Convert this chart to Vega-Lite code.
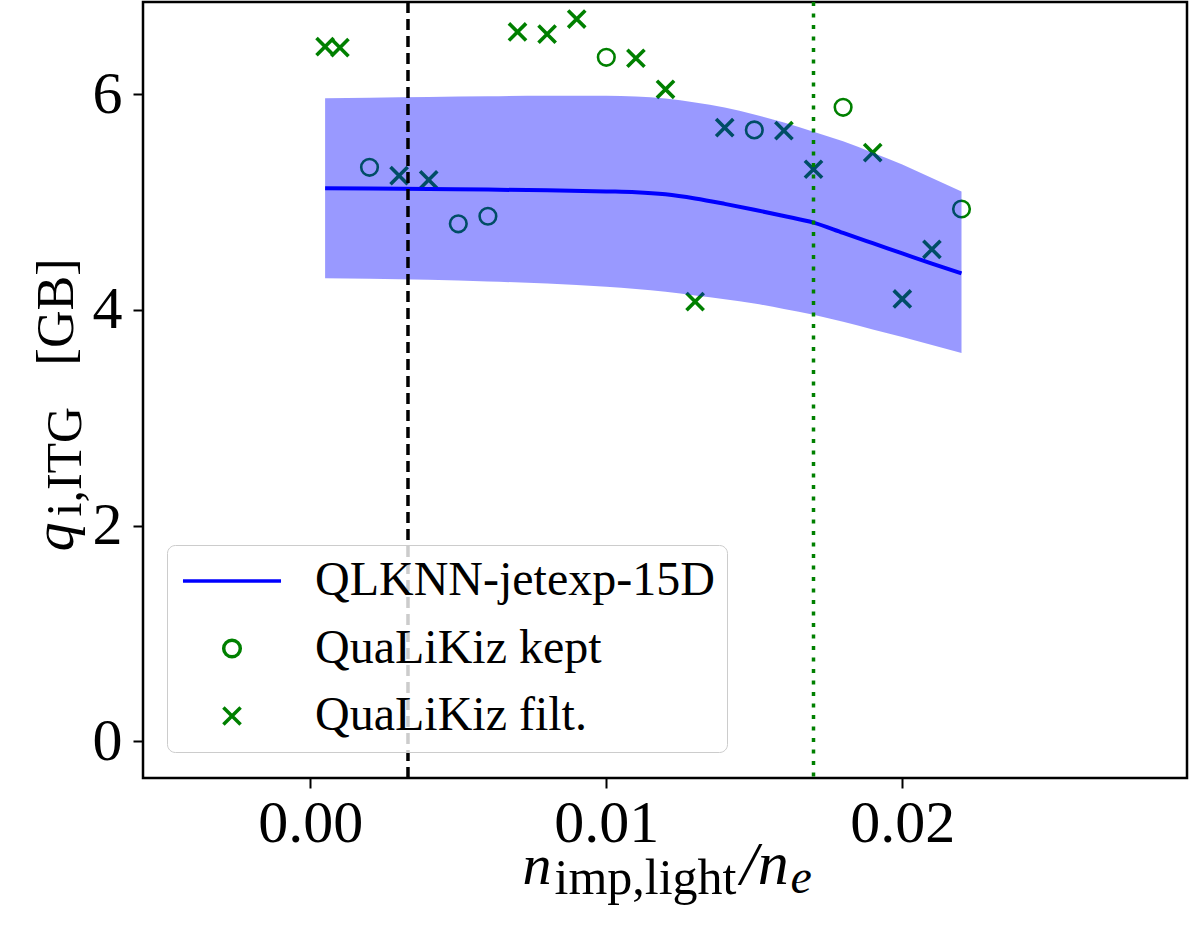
{
  "$schema": "https://vega.github.io/schema/vega-lite/v6.json",
  "width": 1044,
  "height": 776,
  "autosize": "none",
  "padding": {"left": 143, "top": 2, "right": 9, "bottom": 164},
  "background": "white",
  "config": {
    "view": {"stroke": "black", "strokeWidth": 2.5},
    "axis": {"grid": false, "domain": false, "tickColor": "black", "tickWidth": 2, "tickSize": 10, "labelFont": "Liberation Serif", "labelFontSize": 60, "labelColor": "black", "titleFont": "Liberation Serif", "titleColor": "black", "titleFontWeight": "normal", "labelFlush": false, "labelOverlap": false},
    "legend": {"orient": "none", "legendX": 24, "legendY": 543, "padding": 12, "rowPadding": 19.5, "symbolOffset": 29, "labelOffset": 59, "labelFont": "Liberation Serif", "labelFontSize": 48, "labelColor": "black", "labelLimit": 0, "fillColor": "rgba(255,255,255,0.8)", "strokeColor": "#cccccc", "cornerRadius": 8, "symbolSize": 361, "symbolStrokeWidth": 3.5, "symbolOpacity": 1}
  },
  "datasets": {
    "kept": [
      {"x": 0.002, "q": 5.324, "series": "QuaLiKiz kept"},
      {"x": 0.005, "q": 4.80, "series": "QuaLiKiz kept"},
      {"x": 0.006, "q": 4.87, "series": "QuaLiKiz kept"},
      {"x": 0.010, "q": 6.345, "series": "QuaLiKiz kept"},
      {"x": 0.015, "q": 5.671, "series": "QuaLiKiz kept"},
      {"x": 0.018, "q": 5.881, "series": "QuaLiKiz kept"},
      {"x": 0.022, "q": 4.937, "series": "QuaLiKiz kept"}
    ],
    "filt": [
      {"x": 0.0005, "q": 6.444, "series": "QuaLiKiz filt."},
      {"x": 0.001, "q": 6.434, "series": "QuaLiKiz filt."},
      {"x": 0.003, "q": 5.247, "series": "QuaLiKiz filt."},
      {"x": 0.004, "q": 5.207, "series": "QuaLiKiz filt."},
      {"x": 0.007, "q": 6.58, "series": "QuaLiKiz filt."},
      {"x": 0.008, "q": 6.56, "series": "QuaLiKiz filt."},
      {"x": 0.009, "q": 6.70, "series": "QuaLiKiz filt."},
      {"x": 0.011, "q": 6.336, "series": "QuaLiKiz filt."},
      {"x": 0.012, "q": 6.048, "series": "QuaLiKiz filt."},
      {"x": 0.013, "q": 4.077, "series": "QuaLiKiz filt."},
      {"x": 0.014, "q": 5.692, "series": "QuaLiKiz filt."},
      {"x": 0.016, "q": 5.664, "series": "QuaLiKiz filt."},
      {"x": 0.017, "q": 5.306, "series": "QuaLiKiz filt."},
      {"x": 0.019, "q": 5.46, "series": "QuaLiKiz filt."},
      {"x": 0.020, "q": 4.102, "series": "QuaLiKiz filt."},
      {"x": 0.021, "q": 4.563, "series": "QuaLiKiz filt."}
    ],
    "nn": [
      {"x": 0.0005, "lo": 4.295, "mid": 5.13, "hi": 5.965},
      {"x": 0.002, "lo": 4.29, "mid": 5.127, "hi": 5.97},
      {"x": 0.004, "lo": 4.28, "mid": 5.122, "hi": 5.977},
      {"x": 0.006, "lo": 4.265, "mid": 5.117, "hi": 5.983},
      {"x": 0.008, "lo": 4.245, "mid": 5.11, "hi": 5.988},
      {"x": 0.010, "lo": 4.215, "mid": 5.10, "hi": 5.988},
      {"x": 0.011, "lo": 4.195, "mid": 5.093, "hi": 5.982},
      {"x": 0.012, "lo": 4.17, "mid": 5.073, "hi": 5.962},
      {"x": 0.013, "lo": 4.135, "mid": 5.035, "hi": 5.925},
      {"x": 0.014, "lo": 4.10, "mid": 4.985, "hi": 5.878},
      {"x": 0.015, "lo": 4.06, "mid": 4.93, "hi": 5.815},
      {"x": 0.016, "lo": 4.01, "mid": 4.872, "hi": 5.74},
      {"x": 0.017, "lo": 3.955, "mid": 4.81, "hi": 5.655},
      {"x": 0.018, "lo": 3.89, "mid": 4.715, "hi": 5.565},
      {"x": 0.019, "lo": 3.82, "mid": 4.62, "hi": 5.46},
      {"x": 0.020, "lo": 3.75, "mid": 4.525, "hi": 5.35},
      {"x": 0.021, "lo": 3.675, "mid": 4.43, "hi": 5.225},
      {"x": 0.022, "lo": 3.60, "mid": 4.34, "hi": 5.10}
    ],
    "vblack": [{"xv": 0.0033}],
    "vgreen": [{"xv": 0.017}]
  },
  "layer": [
    {
      "data": {"name": "kept"},
      "mark": {"type": "point", "filled": false, "opacity": 1, "strokeWidth": 2.6, "size": 361},
      "encoding": {
        "x": {"field": "x", "type": "quantitative", "scale": {"domain": [-0.005652, 0.029618], "nice": false, "zero": false},
          "axis": {"orient": "bottom", "values": [0, 0.01, 0.02], "format": ".2f", "labelPadding": 6, "title": "n", "titleFontStyle": "italic", "titleFontSize": 58, "titleX": 379, "titleY": 105, "titleAlign": "left", "titleBaseline": "alphabetic", "titleAngle": 0}},
        "y": {"field": "q", "type": "quantitative", "scale": {"domain": [-0.343, 6.858], "nice": false, "zero": false},
          "axis": {"orient": "left", "values": [0, 2, 4, 6], "format": "d", "labelPadding": 11, "title": "q", "titleFontStyle": "italic", "titleFontSize": 58, "titleX": -71, "titleY": 549, "titleAlign": "left", "titleBaseline": "alphabetic", "titleAngle": 270}},
        "shape": {"field": "series", "type": "nominal",
          "scale": {"domain": ["QLKNN-jetexp-15D", "QuaLiKiz kept", "QuaLiKiz filt."], "range": ["M-5.16,0L5.16,0", "M0.874,0A0.874,0.874,0,1,1,-0.874,0A0.874,0.874,0,1,1,0.874,0Z", "M-0.905,-0.905L0.905,0.905M-0.905,0.905L0.905,-0.905"]},
          "legend": {"title": null}},
        "color": {"field": "series", "type": "nominal",
          "scale": {"domain": ["QLKNN-jetexp-15D", "QuaLiKiz kept", "QuaLiKiz filt."], "range": ["#0000ff", "#008000", "#008000"]},
          "legend": {"title": null}}
      }
    },
    {
      "data": {"name": "filt"},
      "mark": {"type": "point", "filled": false, "opacity": 1, "strokeWidth": 3.6, "size": 361},
      "encoding": {
        "x": {"field": "x", "type": "quantitative", "scale": {"domain": [-0.005652, 0.029618], "nice": false, "zero": false}, "axis": null},
        "y": {"field": "q", "type": "quantitative", "scale": {"domain": [-0.343, 6.858], "nice": false, "zero": false}, "axis": null},
        "shape": {"field": "series", "type": "nominal",
          "scale": {"domain": ["QLKNN-jetexp-15D", "QuaLiKiz kept", "QuaLiKiz filt."], "range": ["M-5.16,0L5.16,0", "M0.874,0A0.874,0.874,0,1,1,-0.874,0A0.874,0.874,0,1,1,0.874,0Z", "M-0.905,-0.905L0.905,0.905M-0.905,0.905L0.905,-0.905"]},
          "legend": {"title": null}},
        "color": {"field": "series", "type": "nominal",
          "scale": {"domain": ["QLKNN-jetexp-15D", "QuaLiKiz kept", "QuaLiKiz filt."], "range": ["#0000ff", "#008000", "#008000"]},
          "legend": {"title": null}}
      }
    },
    {
      "data": {"name": "nn"},
      "mark": {"type": "area", "color": "#0000ff", "opacity": 0.4, "interpolate": "monotone"},
      "encoding": {
        "x": {"field": "x", "type": "quantitative", "scale": {"domain": [-0.005652, 0.029618], "nice": false, "zero": false},
          "axis": {"orient": "bottom", "labels": false, "ticks": false, "domain": false, "title": "imp,light", "titleFontSize": 50, "titleX": 411, "titleY": 115, "titleAlign": "left", "titleBaseline": "alphabetic", "titleAngle": 0}},
        "y": {"field": "lo", "type": "quantitative", "scale": {"domain": [-0.343, 6.858], "nice": false, "zero": false},
          "axis": {"orient": "left", "labels": false, "ticks": false, "domain": false, "title": "i,ITG", "titleFontSize": 50, "titleX": -63, "titleY": 514, "titleAlign": "left", "titleBaseline": "alphabetic", "titleAngle": 270}},
        "y2": {"field": "hi"}
      }
    },
    {
      "data": {"name": "nn"},
      "mark": {"type": "line", "color": "#0000ff", "strokeWidth": 4, "interpolate": "monotone"},
      "encoding": {
        "x": {"field": "x", "type": "quantitative", "scale": {"domain": [-0.005652, 0.029618], "nice": false, "zero": false},
          "axis": {"orient": "bottom", "labels": false, "ticks": false, "domain": false, "title": "/n", "titleFontStyle": "italic", "titleFontSize": 62, "titleX": 597, "titleY": 105, "titleAlign": "left", "titleBaseline": "alphabetic", "titleAngle": 0}},
        "y": {"field": "mid", "type": "quantitative", "scale": {"domain": [-0.343, 6.858], "nice": false, "zero": false},
          "axis": {"orient": "left", "labels": false, "ticks": false, "domain": false, "title": "[GB]", "titleFontSize": 52, "titleX": -71, "titleY": 256, "titleAlign": "right", "titleBaseline": "alphabetic", "titleAngle": 270}}
      }
    },
    {
      "data": {"name": "vblack"},
      "mark": {"type": "rule", "color": "black", "strokeWidth": 3.5, "strokeDash": [11, 6]},
      "encoding": {
        "x": {"field": "xv", "type": "quantitative", "scale": {"domain": [-0.005652, 0.029618], "nice": false, "zero": false},
          "axis": {"orient": "bottom", "labels": false, "ticks": false, "domain": false, "title": "e", "titleFontStyle": "italic", "titleFontSize": 48, "titleX": 647, "titleY": 114, "titleAlign": "left", "titleBaseline": "alphabetic", "titleAngle": 0}}
      }
    },
    {
      "data": {"name": "vgreen"},
      "mark": {"type": "rule", "color": "#008000", "strokeWidth": 3.5, "strokeDash": [4, 7.5]},
      "encoding": {
        "x": {"field": "xv", "type": "quantitative", "scale": {"domain": [-0.005652, 0.029618], "nice": false, "zero": false}, "axis": null}
      }
    }
  ],
  "resolve": {"axis": {"x": "independent", "y": "independent"}}
}
